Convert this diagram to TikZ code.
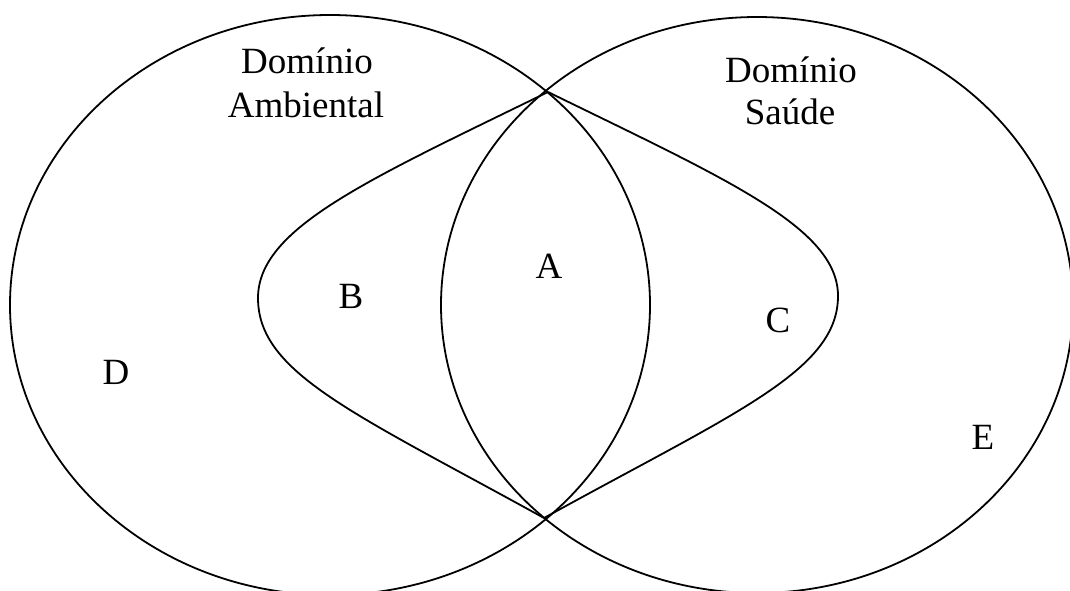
\documentclass[tikz,border=0pt]{standalone}
\usepackage{fontspec}
\setmainfont{Liberation Serif}
\begin{document}
\begin{tikzpicture}[x=1pt,y=-1pt,
  outline/.style={draw=black,line width=1.8pt},
  lbl/.style={font=\fontsize{37}{44}\selectfont,anchor=base,inner sep=0pt}]
\useasboundingbox (0,0) rectangle (1070,590);
\clip (0,0) rectangle (1070,590);
% domains
\draw[outline] (330,305) ellipse [x radius=320, y radius=290];
\draw[outline] (757,305) ellipse [x radius=316, y radius=288];
% intersection points
\coordinate (top) at (548,92);
\coordinate (bot) at (544,518);
\coordinate (lw) at (258,298);
\coordinate (re) at (838,296);
% lens curves
\draw[outline] (top) .. controls (368,180) and (258,228) .. (lw)
  .. controls (258,373) and (354,413) .. (bot);
\draw[outline] (top) .. controls (728,180) and (838,228) .. (re)
  .. controls (838,371) and (734,413) .. (bot);
% labels
\node[lbl] (dom1) at (307,73) {Domínio};
\node[lbl] (amb) at (306,117) {Ambiental};
\node[lbl] (dom2) at (791,82) {Domínio};
\node[lbl] (sau) at (790,124) {Saúde};
\node[lbl] (a) at (549,278) {A};
\node[lbl] (b) at (351,308) {B};
\node[lbl] (c) at (778,332) {C};
\node[lbl] (d) at (116,384) {D};
\node[lbl] (e) at (983,449) {E};
\end{tikzpicture}
\end{document}
